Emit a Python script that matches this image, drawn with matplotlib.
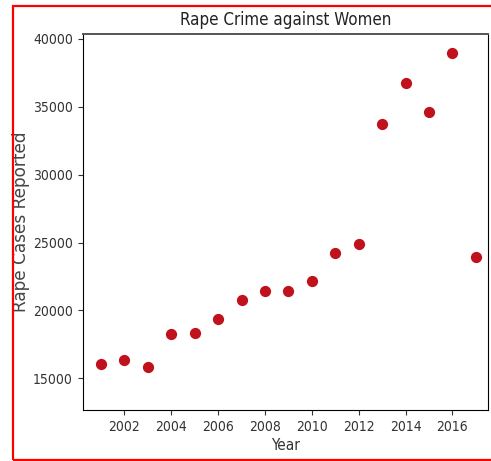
import matplotlib
matplotlib.use("Agg")
import matplotlib.pyplot as plt
from matplotlib.patches import Rectangle

# NCRB rape cases reported, 2001-2017
years = [2001, 2002, 2003, 2004, 2005, 2006, 2007, 2008, 2009,
         2010, 2011, 2012, 2013, 2014, 2015, 2016, 2017]
cases = [16075, 16373, 15847, 18233, 18359, 19348, 20737, 21467, 21397,
         22172, 24206, 24923, 33707, 36735, 34651, 38947, 23960]
xticks = [2002, 2004, 2006, 2008, 2010, 2012, 2014, 2016]
yticks = [15000, 20000, 25000, 30000, 35000, 40000]

plt.rcParams["font.family"] = ["DejaVu Sans"]
plt.rcParams["font.stretch"] = "condensed"

fig = plt.figure(figsize=(4.91, 4.61), dpi=100)
ax = fig.add_axes([0.1684, 0.1106, 0.8255, 0.815])

ax.scatter(years, cases, s=50, color="#c0121c", zorder=3)
ax.set_xlim(2000.22, 2017.52)
ax.set_ylim(12664, 40346)
ax.set_xticks(xticks)
ax.set_yticks(yticks)
ax.tick_params(labelsize=10, colors="#333333")
ax.spines["top"].set_color("#555555")
ax.spines["top"].set_linewidth(1.4)
ax.set_title("Rape Crime against Women", fontsize=12.2, color="#222222", pad=7)
ax.set_xlabel("Year", fontsize=11, color="#333333", labelpad=3)
ax.set_ylabel("Rape Cases Reported", fontsize=12.2, color="#444444",
              fontstretch="normal", labelpad=2)

# red frame around the whole figure
fig.patches.append(Rectangle((13 / 491, 1 / 461), 480 / 491, 454 / 461,
                             transform=fig.transFigure, fill=False,
                             edgecolor="red", linewidth=1.6))

fig.savefig("out.png", dpi=100)
